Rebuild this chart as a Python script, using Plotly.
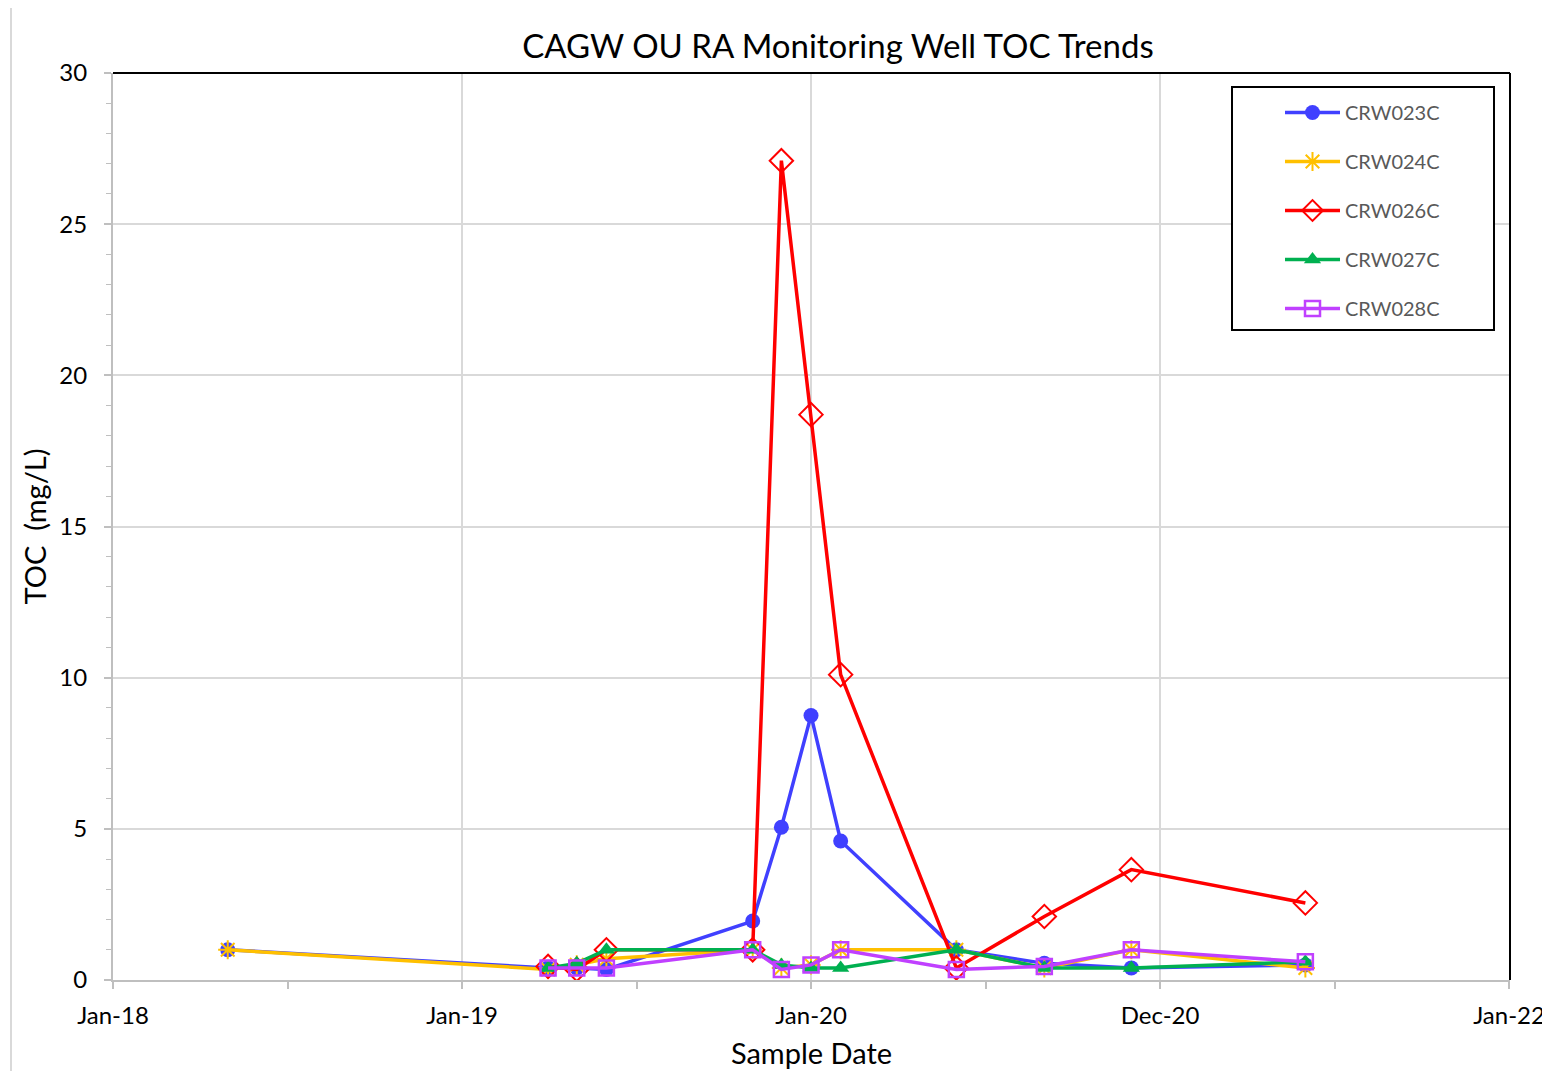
import plotly.graph_objects as go

dates = ["2018-05-01", "2019-04-01", "2019-05-01", "2019-06-01", "2019-11-01",
         "2019-12-01", "2020-01-01", "2020-02-01", "2020-06-01", "2020-09-01",
         "2020-12-01", "2021-06-01"]

crw023c = [1.0, 0.4, 0.4, 0.35, 1.95, 5.05, 8.75, 4.6, 1.0, 0.55, 0.4, 0.5]
crw024c = [1.0, 0.35, 0.5, 0.7, 1.0, 0.4, 0.5, 1.0, 1.0, 0.4, 1.0, 0.4]
crw026c = [None, 0.45, 0.35, 1.0, 1.0, 27.1, 18.7, 10.1, 0.4, 2.1, 3.65, 2.55]
crw027c = [None, 0.4, 0.55, 1.0, 1.0, 0.5, 0.4, 0.4, 1.0, 0.4, 0.4, 0.6]
crw028c = [None, 0.4, 0.4, 0.4, 1.0, 0.35, 0.5, 1.0, 0.35, 0.45, 1.0, 0.6]

tick_vals = ["2018-01-01", "2019-01-01", "2020-01-01", "2020-12-31", "2021-12-31"]
tick_text = ["Jan-18", "Jan-19", "Jan-20", "Dec-20", "Jan-22"]
minor_vals = ["2018-07-02 12:00", "2019-07-02 12:00", "2020-07-01 12:00", "2021-07-01 12:00"]

series = [
    ("CRW023C", crw023c, "#4040FF", dict(symbol="circle", size=15)),
    ("CRW024C", crw024c, "#FFC000", dict(symbol="asterisk-open", size=16, line=dict(width=2, color="#FFC000"))),
    ("CRW026C", crw026c, "#FF0000", dict(symbol="diamond-open", size=18, line=dict(width=2, color="#FF0000"))),
    ("CRW027C", crw027c, "#00B050", dict(symbol="triangle-up", size=15)),
    ("CRW028C", crw028c, "#C040FF", dict(symbol="square-open", size=15, line=dict(width=2.5, color="#C040FF"))),
]

fig = go.Figure()
for i, (name, vals, col, mk) in enumerate(series):
    fig.add_trace(go.Scatter(
        x=dates, y=vals, name=name, mode="lines+markers",
        line=dict(color=col, width=3.5), marker=dict(color=col, **mk),
        legendgroup=f"g{i}", connectgaps=False,
    ))

font_family = "Lato, Open Sans, sans-serif"

# page offset compensation (browser body margin ~8px)
OFF = 8
L, T = 113 - OFF, 73 - OFF
PW, PH = 1397, 907
R = 1550 - L - PW
B = 1071 - T - PH

def px_x(x):
    return (x - 113) / PW

def px_y(y):
    return (980 - y) / PH

fig.update_layout(
    width=1550, height=1071,
    margin=dict(l=L, r=R, t=T, b=B),
    paper_bgcolor="white", plot_bgcolor="white",
    font=dict(family=font_family, color="black"),
    title=dict(text="CAGW OU RA Monitoring Well TOC Trends", x=px_x(838), xref="paper", xanchor="center",
               y=1 - (46 - OFF) / 1071, yanchor="middle", font=dict(size=33, color="black")),
    showlegend=True,
    legend=dict(x=px_x(1280), y=px_y(93), xanchor="left", yanchor="top",
                borderwidth=0, bgcolor="rgba(0,0,0,0)",
                font=dict(size=20, color="#595959"), tracegroupgap=20,
                itemwidth=55),
)

fig.update_xaxes(
    type="date", range=["2018-01-01", "2022-01-01"],
    tickmode="array", tickvals=tick_vals, ticktext=tick_text,
    tickfont=dict(size=24, color="black"), ticklabelstandoff=6,
    showgrid=True, gridcolor="#D9D9D9", gridwidth=2,
    showline=True, linecolor="#BFBFBF", linewidth=2,
    ticks="outside", ticklen=7, tickcolor="#BFBFBF", tickwidth=2,
    minor=dict(tickmode="array", tickvals=minor_vals, ticks="outside",
               ticklen=7, tickcolor="#BFBFBF", tickwidth=2, showgrid=False),
    title=dict(text="Sample Date", font=dict(size=29, color="black"), standoff=16),
    zeroline=False,
)
fig.update_yaxes(
    range=[0, 30], dtick=5, tick0=0,
    tickfont=dict(size=24, color="black"), ticklabelstandoff=12,
    showgrid=True, gridcolor="#D9D9D9", gridwidth=2,
    showline=True, linecolor="#BFBFBF", linewidth=2,
    ticks="outside", ticklen=7, tickcolor="#BFBFBF", tickwidth=2,
    minor=dict(dtick=1, ticks="outside", ticklen=5, tickcolor="#BFBFBF",
               tickwidth=1, showgrid=False),
    title=dict(text="TOC  (mg/L)", font=dict(size=29, color="black"), standoff=4),
    zeroline=False,
)

# plot-area frame (top and right black)
fig.add_shape(type="line", xref="paper", yref="paper", x0=0, x1=1, y0=1, y1=1,
              line=dict(color="black", width=2), layer="above")
fig.add_shape(type="line", xref="paper", yref="paper", x0=1, x1=1, y0=0, y1=1,
              line=dict(color="black", width=2), layer="above")
# legend frame
fig.add_shape(type="rect", xref="paper", yref="paper",
              x0=px_x(1232), x1=px_x(1494), y0=px_y(330), y1=px_y(87),
              line=dict(color="black", width=2), fillcolor="white", layer="above")
# outer chart-area border (light grey)
fig.add_shape(type="line", xref="paper", yref="paper",
              x0=px_x(11), x1=px_x(1560), y0=px_y(5), y1=px_y(5),
              line=dict(color="#D9D9D9", width=2))
fig.add_shape(type="line", xref="paper", yref="paper",
              x0=px_x(11), x1=px_x(11), y0=px_y(5), y1=px_y(1080),
              line=dict(color="#D9D9D9", width=2))

fig.write_html("out.html")
